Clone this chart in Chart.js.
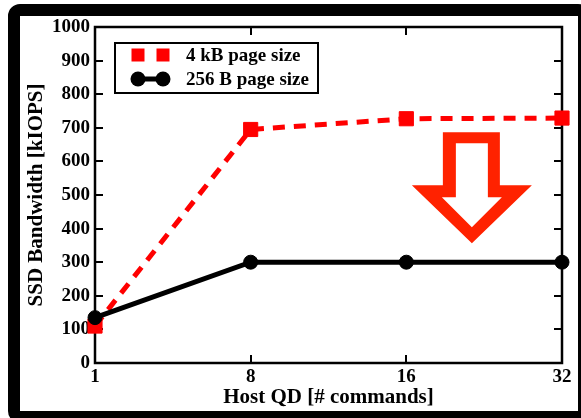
<!DOCTYPE html>
<html>
<head>
<meta charset="utf-8">
<script src="https://cdn.jsdelivr.net/npm/chart.js@4/dist/chart.umd.min.js"></script>
<style>
  html, body { margin: 0; padding: 0; background: #fff; }
  #wrap { width: 581px; height: 418px; }
</style>
</head>
<body>
<div id="wrap"><canvas id="c" width="581" height="418"></canvas></div>
<script>
// Host queue depth (number of outstanding commands)
const hostQD = ['1', '8', '16', '32'];
// SSD bandwidth in kIOPS for each page size
const bw4kB = [110, 695, 727, 729];
const bw256B = [135, 300, 300, 300];
// Y axis range and tick step (kIOPS)
const yMin = 0;
const yMax = 1000;
const yStep = 100;

const SERIF = '"Liberation Serif", "Times New Roman", serif';
const RED = '#ff0000';
const ARROW_RED = '#ff2200';

// White page, plot box with inward ticks on all four sides
const boxPlugin = {
  id: 'box',
  beforeDraw(chart) {
    const ctx = chart.ctx;
    ctx.save();
    ctx.fillStyle = '#fff';
    ctx.fillRect(0, 0, chart.width, chart.height);
    ctx.restore();
  },
  beforeDatasetsDraw(chart) {
    const { ctx, chartArea: a, scales: { x, y } } = chart;
    ctx.save();
    ctx.strokeStyle = '#000';
    ctx.lineWidth = 2.5;
    ctx.strokeRect(a.left, a.top, a.right - a.left, a.bottom - a.top);
    ctx.lineWidth = 2;
    const tl = 8;
    ctx.beginPath();
    y.ticks.forEach(t => {
      const py = Math.round(y.getPixelForValue(t.value));
      ctx.moveTo(a.left, py); ctx.lineTo(a.left + tl, py);
      ctx.moveTo(a.right, py); ctx.lineTo(a.right - tl, py);
    });
    x.ticks.forEach((t, i) => {
      const px = Math.round(x.getPixelForTick(i));
      ctx.moveTo(px, a.bottom); ctx.lineTo(px, a.bottom - tl);
      ctx.moveTo(px, a.top); ctx.lineTo(px, a.top + tl);
    });
    ctx.stroke();
    ctx.restore();
  },
  afterDraw(chart) {
    const ctx = chart.ctx;
    // hollow "drop" arrow between the two curves
    const a = chart.chartArea;
    const cx = a.left + (a.right - a.left) * 0.807;
    const top = chart.scales.y.getPixelForValue(687);
    const outer = [[-29, 0], [28, 0], [28, 53], [60, 53], [0, 111], [-60, 53], [-29, 53]];
    const inner = [[-16, 11], [16, 11], [16, 65], [30, 65], [0, 95], [-30, 65], [-16, 65]];
    ctx.save();
    ctx.beginPath();
    outer.forEach(([dx, dy], i) => i ? ctx.lineTo(cx + dx, top + dy) : ctx.moveTo(cx + dx, top + dy));
    ctx.closePath();
    inner.slice().reverse().forEach(([dx, dy], i) => i ? ctx.lineTo(cx + dx, top + dy) : ctx.moveTo(cx + dx, top + dy));
    ctx.closePath();
    ctx.fillStyle = ARROW_RED;
    ctx.fill('evenodd');
    ctx.restore();

    // legend box
    const lx = 115, ly = 43, lw = 203, lh = 50;
    ctx.save();
    ctx.fillStyle = '#fff';
    ctx.fillRect(lx, ly, lw, lh);
    ctx.strokeStyle = '#000';
    ctx.lineWidth = 2;
    ctx.strokeRect(lx, ly, lw, lh);
    const rows = chart.data.datasets;
    rows.forEach((ds, i) => {
      const ry = ly + 12 + i * 24;
      const x1 = lx + 23, x2 = lx + 48;
      if (ds.pointStyle === 'rect') {
        ctx.fillStyle = ds.pointBackgroundColor;
        ctx.fillRect(x1 - 6.5, ry - 6.5, 13, 13);
        ctx.fillRect(x2 - 6.5, ry - 6.5, 13, 13);
      } else {
        ctx.strokeStyle = ds.borderColor;
        ctx.lineWidth = ds.borderWidth;
        ctx.beginPath(); ctx.moveTo(x1, ry); ctx.lineTo(x2, ry); ctx.stroke();
        ctx.fillStyle = ds.pointBackgroundColor;
        [x1, x2].forEach(px => { ctx.beginPath(); ctx.arc(px, ry, 7.5, 0, Math.PI * 2); ctx.fill(); });
      }
      ctx.fillStyle = '#000';
      ctx.font = 'bold 19px ' + SERIF;
      ctx.textBaseline = 'middle';
      ctx.textAlign = 'left';
      ctx.fillText(ds.label, lx + 71, ry + 1);
    });
    ctx.restore();

    // outer black frame
    ctx.save();
    ctx.strokeStyle = '#000';
    ctx.lineWidth = 12;
    ctx.beginPath();
    ctx.roundRect(14, 10, 570, 407, 6);
    ctx.stroke();
    ctx.restore();
  }
};

new Chart(document.getElementById('c'), {
  type: 'line',
  data: {
    labels: hostQD,
    datasets: [
      {
        label: '4 kB page size',
        data: bw4kB,
        borderColor: RED,
        borderWidth: 5,
        borderDash: [12, 9],
        pointStyle: 'rect',
        pointRadius: 10,
        pointBackgroundColor: RED,
        pointBorderColor: RED,
        pointBorderWidth: 1,
        tension: 0,
        clip: false,
        order: 2
      },
      {
        label: '256 B page size',
        data: bw256B,
        borderColor: '#000',
        borderWidth: 5,
        pointStyle: 'circle',
        pointRadius: 7,
        pointBackgroundColor: '#000',
        pointBorderColor: '#000',
        pointBorderWidth: 1,
        tension: 0,
        clip: false,
        order: 1
      }
    ]
  },
  options: {
    responsive: false,
    animation: false,
    events: [],
    layout: { padding: { left: 0, top: 27, right: 19, bottom: 0 } },
    plugins: { legend: { display: false }, tooltip: { enabled: false } },
    scales: {
      x: {
        type: 'category',
        offset: false,
        grid: { display: false, drawTicks: false },
        border: { display: false },
        ticks: {
          color: '#000',
          font: { family: SERIF, size: 19, weight: 'bold' },
          padding: 3,
          maxRotation: 0,
          autoSkip: false
        },
        title: {
          display: true,
          text: 'Host QD [# commands]',
          color: '#000',
          font: { family: SERIF, size: 21, weight: 'bold' },
          padding: { top: 0, bottom: 8 }
        },
        afterFit(s) { s.height = 55; }
      },
      y: {
        min: yMin,
        max: yMax,
        grid: { display: false, drawTicks: false },
        border: { display: false },
        ticks: {
          stepSize: yStep,
          color: '#000',
          font: { family: SERIF, size: 19, weight: 'bold' },
          padding: 5,
          callback: v => String(v)
        },
        title: {
          display: true,
          text: 'SSD Bandwidth [kIOPS]',
          color: '#000',
          font: { family: SERIF, size: 21, weight: 'bold' },
          padding: { top: 24, bottom: 0 }
        },
        afterFit(s) { s.width = 95; }
      }
    }
  },
  plugins: [boxPlugin]
});
</script>
</body>
</html>
